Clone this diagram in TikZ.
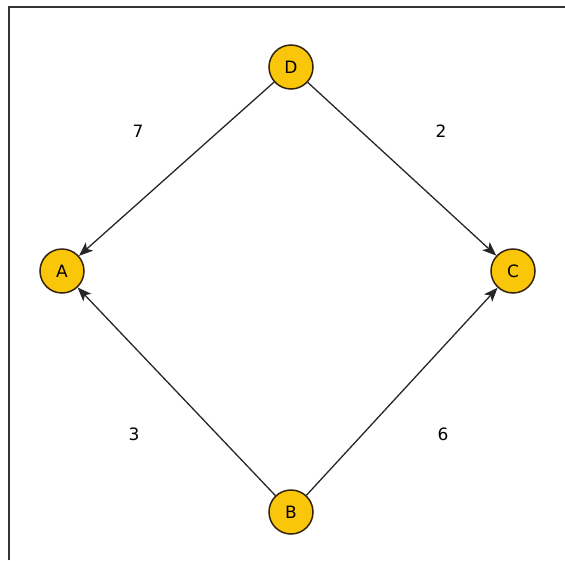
\documentclass[tikz,border=0pt]{standalone}
\usepackage{fontspec}
\setmainfont{DejaVu Sans}
\usetikzlibrary{arrows.meta}
\definecolor{nodefill}{RGB}{250,198,10}
\definecolor{nodeline}{RGB}{50,35,10}
\begin{document}
\begin{tikzpicture}[x=1pt,y=-1pt,
  vert/.style={circle,draw=nodeline,fill=nodefill,line width=1.5pt,minimum size=44pt,inner sep=0pt,font=\fontsize{17}{19}\selectfont},
  edge/.style={draw=black!85,line width=1.3pt,-{Stealth[length=14pt,width=11pt,inset=3.5pt]}},
  wlabel/.style={font=\fontsize{17}{19}\selectfont}]
\useasboundingbox (0,0) rectangle (565,560);
\coordinate (fa) at (9,560);
\coordinate (fb) at (9,7);
\coordinate (fc) at (565,7);
\draw[line width=2pt,black!80] (fa) -- (fb) -- (fc);
\node[vert] (D) at (291,67) {D};
\node[vert] (A) at (62,271) {A};
\node[vert] (C) at (513,271) {C};
\node[vert] (B) at (291,512) {B};
\draw[edge] (D) -- (A);
\draw[edge] (D) -- (C);
\draw[edge] (B) -- (A);
\draw[edge] (B) -- (C);
\node[wlabel] (w7) at (138,131) {7};
\node[wlabel] (w2) at (441,131) {2};
\node[wlabel] (w3) at (134,434) {3};
\node[wlabel] (w6) at (443,434) {6};
\end{tikzpicture}
\end{document}
